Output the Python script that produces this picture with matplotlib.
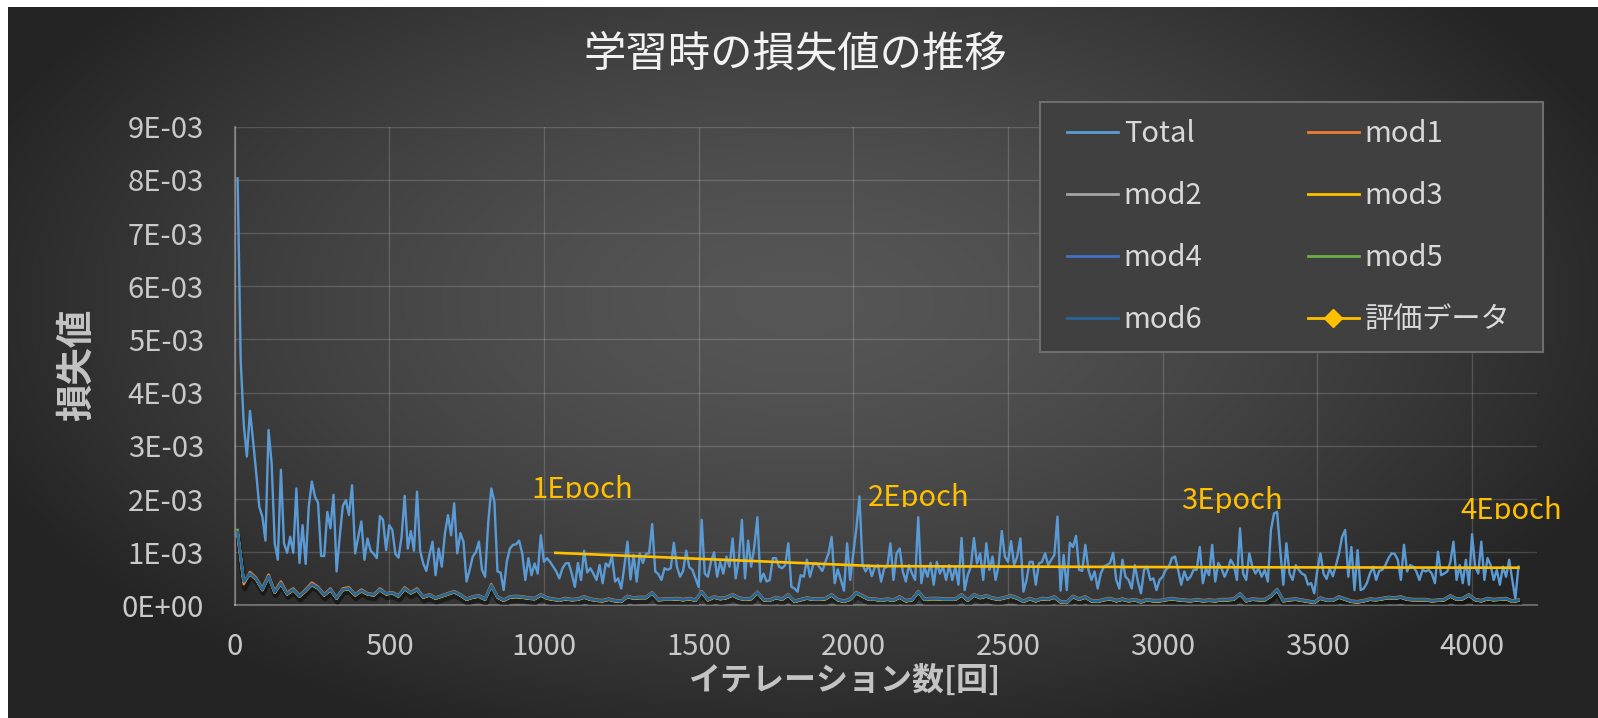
import numpy as np
import matplotlib.pyplot as plt
from matplotlib.lines import Line2D
from matplotlib.patches import Rectangle
from matplotlib.ticker import FuncFormatter
from matplotlib import patheffects as pe
from matplotlib import transforms as mtrans

plt.rcParams['font.family'] = ['Noto Sans CJK JP', 'DejaVu Sans']

# total loss, logged every 10 iterations (10 .. 4150), in units of 1e-3
total_e3 = [
    8.03, 4.6, 3.4, 2.8, 3.66, 3.1, 2.5, 1.86, 1.67, 1.22, 3.3, 2.67, 1.17, 0.86, 2.55, 1.17, 0.99, 1.29, 0.99, 2.2,
    0.8, 1.51, 0.78, 1.86, 2.33, 2.05, 1.93, 0.93, 0.93, 1.76, 1.45, 2.08, 0.64, 1.29, 1.87, 1.98, 1.7, 2.26, 0.98, 1.29,
    1.58, 0.86, 1.26, 1.03, 0.97, 0.89, 1.68, 1.61, 1.04, 1.51, 1.42, 0.97, 0.9, 1.29, 2.06, 1.07, 1.4, 1.03, 2.14, 1.03,
    0.79, 0.65, 0.95, 1.2, 0.57, 1.07, 0.73, 1.35,
    1.70, 1.32, 1.92, 0.98, 1.36, 1.2, 0.45, 0.67, 0.92, 1.0, 1.2, 0.67, 0.54, 1.55, 2.2, 1.95, 0.64, 0.62, 0.29, 0.82,
    1.07, 1.14, 1.15, 1.22, 0.98, 0.48, 0.89, 0.57, 0.79, 0.6, 1.32, 0.82, 0.89, 0.82, 0.73, 0.64, 0.51, 0.7, 0.79, 0.8,
    0.6, 0.35, 0.8, 0.48, 1.03, 0.62, 0.7, 0.6, 0.48, 0.76, 0.42, 0.79, 0.73, 0.93, 0.45, 0.51, 0.32, 0.73, 1.2, 0.49,
    0.95, 0.45, 0.98, 0.8, 0.97, 0.98, 1.53, 0.64, 0.59, 0.48, 0.7,
    0.67, 0.7, 1.18, 0.73, 0.54, 0.65, 1.03, 0.72, 0.67, 0.51, 0.35, 1.61, 0.6, 0.54, 0.82, 1.0, 0.54, 0.82, 0.6, 0.92,
    0.73, 1.26, 0.51, 0.86, 1.61, 0.51, 1.22, 0.73, 1.1, 1.66, 0.45, 0.6, 0.45, 0.48, 0.89, 0.89, 0.73, 0.7, 0.76, 1.17,
    0.35, 0.32, 0.26, 0.57, 0.54, 0.86, 0.54, 0.76, 0.8, 0.73, 0.65, 0.82, 0.98, 1.29, 0.42, 0.68, 0.48, 0.28, 1.17, 0.48,
    0.98, 1.45, 2.05, 0.76, 0.64, 0.76, 0.55, 0.73, 0.76, 0.45, 0.7,
    0.73, 1.17, 0.48, 0.98, 1.07, 0.64, 0.45, 0.76, 0.6, 0.48, 1.66, 0.42, 0.73, 0.54, 0.8, 0.39, 0.82, 0.6, 0.73, 0.48,
    0.76, 0.48, 0.73, 0.39, 1.27, 0.29, 0.57, 0.73, 1.27, 0.79, 0.98, 0.48, 1.17, 0.67, 0.92, 0.48, 0.76, 1.4, 0.92, 0.82,
    1.21, 0.76, 0.92, 1.26, 0.26, 0.48, 0.82, 0.82, 0.39, 0.79, 0.82, 0.98, 0.76, 0.86, 0.95, 1.67, 0.28, 0.95, 0.29, 1.18,
    1.1, 1.31, 0.67, 0.65, 1.14, 0.67, 0.48, 0.64, 0.32, 0.6, 0.73,
    0.76, 0.8, 0.99, 0.48, 0.32, 0.86, 0.54, 0.48, 0.32, 0.76, 0.45, 0.23, 0.67, 0.73, 0.48, 0.51, 0.29, 0.48, 0.54, 0.67,
    0.73, 0.89, 0.92, 0.67, 0.39, 0.64, 0.48, 0.54, 0.67, 0.67, 1.1, 0.42, 0.7, 0.57, 1.14, 0.45, 0.8, 0.7, 0.54, 0.67,
    0.86, 0.76, 0.48, 1.45, 0.6, 0.48, 0.98, 0.73, 0.6, 0.7, 0.54, 0.67, 0.45, 1.42, 1.73, 1.76, 1.04, 0.39, 1.17, 0.6,
    0.48, 0.76, 0.67, 0.6, 0.57, 0.39, 0.42, 0.23, 0.67, 0.98, 0.6,
    0.5, 0.7, 0.55, 0.75, 0.98, 1.29, 1.42, 0.54, 1.1, 0.29, 1.04, 0.29, 0.32, 0.42, 0.6, 0.73, 0.48, 0.65, 0.67, 0.76,
    0.89, 0.98, 0.97, 0.86, 0.48, 1.14, 0.64, 0.76, 0.73, 0.64, 0.48, 0.67, 0.64, 0.67, 0.6, 0.42, 1.01, 0.57, 0.6, 0.64,
    0.82, 1.2, 0.48, 0.76, 0.42, 0.86, 0.39, 1.34, 0.73, 0.6, 1.2, 0.48, 0.89, 0.76, 0.48, 0.67, 0.39, 0.73, 0.54, 0.86,
    0.48, 0.13, 0.73,
]

# per-module losses, logged every 20 iterations (10 .. 4150), in units of 1e-5
mod1_e5 = [
    132, 40, 63, 52, 32, 58, 27, 45, 24, 32, 19, 30, 43, 35, 21, 32, 15, 32, 34, 21, 30, 23, 21, 32, 23, 25, 19, 34, 25, 32, 17, 21, 15, 19,
    23, 27, 21, 13, 17, 19, 13, 40, 17, 11, 17, 18, 17, 15, 14, 21, 15, 13, 11, 14, 12, 13, 17, 13, 11, 10, 13, 10, 9, 18, 15, 16, 16, 25, 12, 13,
    13, 14, 12, 14, 11, 27, 12, 17, 14, 16, 21, 15, 13, 14, 26, 12, 11, 16, 13, 21, 9, 12, 15, 13, 13, 14, 21, 12, 9, 13, 25, 19, 13, 13, 11,
    13, 11, 17, 10, 12, 27, 13, 14, 14, 13, 13, 13, 21, 11, 21, 16, 19, 15, 13, 16, 19, 15, 9, 14, 10, 14, 13, 17, 8, 7, 18, 13, 17, 10, 9, 12,
    14, 10, 13, 10, 12, 8, 12, 10, 10, 12, 14, 12, 11, 10, 12, 10, 11, 10, 12, 12, 13, 23, 10, 13, 12, 12, 19, 31, 10, 12, 13, 11, 9, 7, 15,
    11, 11, 17, 13, 9, 8, 10, 13, 12, 14, 16, 15, 17, 13, 12, 12, 12, 10, 11, 12, 19, 13, 14, 21, 12, 10, 14, 12, 13, 14, 9, 11,
]
mod2_e5 = [
    137, 44, 59, 49, 29, 54, 24, 41, 21, 29, 17, 27, 39, 32, 19, 29, 13, 29, 31, 19, 27, 21, 19, 29, 21, 23, 17, 31, 23, 29, 15, 19, 13, 17,
    21, 25, 19, 11, 15, 17, 11, 37, 15, 9, 15, 16, 15, 13, 12, 19, 13, 11, 9, 12, 10, 11, 15, 11, 9, 8, 11, 8, 7, 16, 13, 14, 14, 23, 10, 11,
    11, 12, 10, 12, 9, 25, 10, 15, 12, 14, 19, 13, 11, 12, 24, 10, 9, 14, 11, 19, 7, 10, 13, 11, 11, 12, 19, 10, 7, 11, 23, 17, 11, 11, 9,
    11, 9, 15, 8, 10, 25, 11, 12, 12, 11, 11, 11, 19, 9, 19, 14, 17, 13, 11, 14, 17, 13, 7, 12, 8, 12, 11, 15, 6, 5, 16, 11, 15, 8, 7, 10,
    12, 8, 11, 8, 10, 6, 10, 8, 8, 10, 12, 10, 9, 8, 10, 8, 9, 8, 10, 10, 11, 21, 8, 11, 10, 10, 17, 29, 8, 10, 11, 9, 7, 5, 13,
    9, 9, 15, 11, 7, 6, 8, 11, 10, 12, 14, 13, 15, 11, 10, 10, 10, 8, 9, 10, 17, 11, 12, 19, 10, 8, 12, 10, 11, 12, 7, 9,
]
mod3_e5 = [
    137, 44, 59, 49, 29, 54, 24, 41, 21, 29, 17, 27, 39, 32, 19, 29, 13, 29, 31, 19, 27, 21, 19, 29, 21, 23, 17, 31, 23, 29, 15, 19, 13, 17,
    21, 25, 19, 11, 15, 17, 11, 37, 15, 9, 15, 16, 15, 13, 12, 19, 13, 11, 9, 12, 10, 11, 15, 11, 9, 8, 11, 8, 7, 16, 13, 14, 14, 23, 10, 11,
    11, 12, 10, 12, 9, 25, 10, 15, 12, 14, 19, 13, 11, 12, 24, 10, 9, 14, 11, 19, 7, 10, 13, 11, 11, 12, 19, 10, 7, 11, 23, 17, 11, 11, 9,
    11, 9, 15, 8, 10, 25, 11, 12, 12, 11, 11, 11, 19, 9, 19, 14, 17, 13, 11, 14, 17, 13, 7, 12, 8, 12, 11, 15, 6, 5, 16, 11, 15, 8, 7, 10,
    12, 8, 11, 8, 10, 6, 10, 8, 8, 10, 12, 10, 9, 8, 10, 8, 9, 8, 10, 10, 11, 21, 8, 11, 10, 10, 17, 29, 8, 10, 11, 9, 7, 5, 13,
    9, 9, 15, 11, 7, 6, 8, 11, 10, 12, 14, 13, 15, 11, 10, 10, 10, 8, 9, 10, 17, 11, 12, 19, 10, 8, 12, 10, 11, 12, 7, 9,
]
mod4_e5 = [
    136, 45, 60, 50, 30, 55, 25, 42, 22, 30, 18, 28, 40, 33, 20, 30, 14, 30, 32, 20, 28, 22, 20, 30, 22, 24, 18, 32, 24, 30, 16, 20, 14, 18,
    22, 26, 20, 12, 16, 18, 12, 38, 16, 10, 16, 17, 16, 14, 13, 20, 14, 12, 10, 13, 11, 12, 16, 12, 10, 9, 12, 9, 8, 17, 14, 15, 15, 24, 11, 12,
    12, 13, 11, 13, 10, 26, 11, 16, 13, 15, 20, 14, 12, 13, 25, 11, 10, 15, 12, 20, 8, 11, 14, 12, 12, 13, 20, 11, 8, 12, 24, 18, 12, 12, 10,
    12, 10, 16, 9, 11, 26, 12, 13, 13, 12, 12, 12, 20, 10, 20, 15, 18, 14, 12, 15, 18, 14, 8, 13, 9, 13, 12, 16, 7, 6, 17, 12, 16, 9, 8, 11,
    13, 9, 12, 9, 11, 7, 11, 9, 9, 11, 13, 11, 10, 9, 11, 9, 10, 9, 11, 11, 12, 22, 9, 12, 11, 11, 18, 30, 9, 11, 12, 10, 8, 6, 14,
    10, 10, 16, 12, 8, 7, 9, 12, 11, 13, 15, 14, 16, 12, 11, 11, 11, 9, 10, 11, 18, 12, 13, 20, 11, 9, 13, 11, 12, 13, 8, 10,
]
mod5_e5 = [
    142, 45, 60, 50, 30, 55, 25, 42, 22, 30, 18, 28, 40, 33, 20, 30, 14, 30, 32, 20, 28, 22, 20, 30, 22, 24, 18, 32, 24, 30, 16, 20, 14, 18,
    22, 26, 20, 12, 16, 18, 12, 38, 16, 10, 16, 17, 16, 14, 13, 20, 14, 12, 10, 13, 11, 12, 16, 12, 10, 9, 12, 9, 8, 17, 14, 15, 15, 24, 11, 12,
    12, 13, 11, 13, 10, 26, 11, 16, 13, 15, 20, 14, 12, 13, 25, 11, 10, 15, 12, 20, 8, 11, 14, 12, 12, 13, 20, 11, 8, 12, 24, 18, 12, 12, 10,
    12, 10, 16, 9, 11, 26, 12, 13, 13, 12, 12, 12, 20, 10, 20, 15, 18, 14, 12, 15, 18, 14, 8, 13, 9, 13, 12, 16, 7, 6, 17, 12, 16, 9, 8, 11,
    13, 9, 12, 9, 11, 7, 11, 9, 9, 11, 13, 11, 10, 9, 11, 9, 10, 9, 11, 11, 12, 22, 9, 12, 11, 11, 18, 30, 9, 11, 12, 10, 8, 6, 14,
    10, 10, 16, 12, 8, 7, 9, 12, 11, 13, 15, 14, 16, 12, 11, 11, 11, 9, 10, 11, 18, 12, 13, 20, 11, 9, 13, 11, 12, 13, 8, 10,
]
mod6_e5 = [
    138, 45, 60, 50, 30, 55, 25, 42, 22, 30, 18, 28, 40, 33, 20, 30, 14, 30, 32, 20, 28, 22, 20, 30, 22, 24, 18, 32, 24, 30, 16, 20, 14, 18,
    22, 26, 20, 12, 16, 18, 12, 38, 16, 10, 16, 17, 16, 14, 13, 20, 14, 12, 10, 13, 11, 12, 16, 12, 10, 9, 12, 9, 8, 17, 14, 15, 15, 24, 11, 12,
    12, 13, 11, 13, 10, 26, 11, 16, 13, 15, 20, 14, 12, 13, 25, 11, 10, 15, 12, 20, 8, 11, 14, 12, 12, 13, 20, 11, 8, 12, 24, 18, 12, 12, 10,
    12, 10, 16, 9, 11, 26, 12, 13, 13, 12, 12, 12, 20, 10, 20, 15, 18, 14, 12, 15, 18, 14, 8, 13, 9, 13, 12, 16, 7, 6, 17, 12, 16, 9, 8, 11,
    13, 9, 12, 9, 11, 7, 11, 9, 9, 11, 13, 11, 10, 9, 11, 9, 10, 9, 11, 11, 12, 22, 9, 12, 11, 11, 18, 30, 9, 11, 12, 10, 8, 6, 14,
    10, 10, 16, 12, 8, 7, 9, 12, 11, 13, 15, 14, 16, 12, 11, 11, 11, 9, 10, 11, 18, 12, 13, 20, 11, 9, 13, 11, 12, 13, 8, 10,
]

# evaluation loss at the end of each epoch
eval_iter = [1037, 2075, 3112, 4150]
eval_loss = [9.9e-4, 7.4e-4, 7.2e-4, 7.1e-4]
epoch_labels = ['1Epoch', '2Epoch', '3Epoch', '4Epoch']

series_names = ['Total', 'mod1', 'mod2', 'mod3', 'mod4', 'mod5', 'mod6', '評価データ']

it_total = np.arange(10, 4151, 10)
it_mod = np.arange(10, 4151, 20)

W, H = 1598, 718
fig = plt.figure(figsize=(W / 100, H / 100), dpi=100)

# dark radial backdrop
bg = fig.add_axes([0, 0, 1, 1], zorder=-5)
yy, xx = np.mgrid[0:H, 0:W]
r = np.sqrt(((xx - 0.5 * W) / (0.55 * W)) ** 2 + ((yy - 0.42 * H) / (0.65 * H)) ** 2)
r = np.clip(r, 0, 1) ** 1.5
shade = (86 - 50 * r) / 255
img = np.dstack([shade] * 3)
img[:7, :] = 1
img[:, :8] = 1
bg.imshow(img, extent=(0, W, H, 0), aspect='auto', interpolation='bilinear')
bg.set_xlim(0, W)
bg.set_ylim(H, 0)
bg.axis('off')

ax = fig.add_axes([0.14675, 0.15669, 0.81489, 0.66685])
ax.set_facecolor('none')

total_color = '#5B9BD5'
eval_color = '#FFC000'
mod_colors = ['#ED7D31', '#A5A5A5', '#FFC000', '#4472C4', '#70AD47', '#2A6399']

ax.plot(it_total, np.array(total_e3) * 1e-3, color=total_color, lw=1.7, zorder=3)

mod_data = [mod1_e5, mod2_e5, mod3_e5, mod4_e5, mod5_e5, mod6_e5]
for i, (vals, c) in enumerate(zip(mod_data, mod_colors)):
    effects = None
    if i == 0:
        # soft dark glow under the module lines
        effects = [pe.SimpleLineShadow(offset=(0.6, -3.2), shadow_color='black', alpha=0.45, linewidth=3.8),
                   pe.Normal()]
    ax.plot(it_mod, np.array(vals) * 1e-5, color=c, lw=1.9, zorder=4, path_effects=effects)

ax.plot(eval_iter, eval_loss, color=eval_color, lw=1.9, zorder=6)

# epoch labels: pixel offsets from each point, and where the text box cuts off
lab_dx = [-24, -9, -16, -58]
lab_dy = [54.6, 60.6, 58.4, 49.2]
clip_dy = [54.5, 59.4, 53.9, 48.7]
for lab, x, y, dx, dy, cy in zip(epoch_labels, eval_iter, eval_loss, lab_dx, lab_dy, clip_dy):
    t = ax.annotate(lab, (x, y), xytext=(dx, dy), textcoords='offset pixels',
                    ha='left', va='baseline', fontsize=21, color=eval_color,
                    annotation_clip=False, zorder=7)
    tr = mtrans.offset_copy(ax.transData, fig=fig, x=0, y=cy, units='dots')
    t.set_clip_path(Rectangle((0, y), 6000, 1, transform=tr))

ax.set_xlim(0, 4209)
ax.set_ylim(0, 0.009)
ax.set_xticks(np.arange(0, 4001, 500))
ax.set_yticks(np.arange(0, 0.0091, 0.001))
ax.yaxis.set_major_formatter(FuncFormatter(lambda v, p: f'{v:.0E}'))
ax.tick_params(length=0, labelsize=21, colors='#c9c9c9')
ax.tick_params(axis='y', pad=22)
ax.tick_params(axis='x', pad=19)
ax.grid(True, color='white', alpha=0.16, lw=1.0)
ax.set_axisbelow(True)
for s in ['top', 'right']:
    ax.spines[s].set_visible(False)
for s in ['left', 'bottom']:
    ax.spines[s].set_color((1, 1, 1, 0.3))
    ax.spines[s].set_linewidth(1.5)

fig.text(0.498, 0.924, '学習時の損失値の推移', ha='center', va='center',
         fontsize=30.5, color='#f2f2f2')
fig.text(0.0476, 0.4916, '損失値', rotation=90, ha='center', va='center',
         fontsize=27, fontweight='bold', color='#c4c4c4')
fig.text(0.5288, 0.0515, 'イテレーション数[回]', ha='center', va='center',
         fontsize=23, fontweight='bold', color='#c4c4c4')

# legend box
fig.patches.append(Rectangle((1040 / W, 1 - 352 / H), 503 / W, 250 / H, transform=fig.transFigure,
                             facecolor='#404040', edgecolor='#6e6e6e', lw=1.5, zorder=5))
handles = [Line2D([], [], color=total_color, lw=2)]
handles += [Line2D([], [], color=c, lw=2) for c in mod_colors]
handles.append(Line2D([], [], color=eval_color, lw=2, marker='D', markersize=9))
order = [0, 2, 4, 6, 1, 3, 5, 7]
leg = fig.legend([handles[i] for i in order], [series_names[i] for i in order],
                 loc='upper left', bbox_to_anchor=(1067 / W, 1 - 119 / H), ncol=2,
                 frameon=False, fontsize=21, labelcolor='#d9d9d9',
                 handlelength=1.75, handletextpad=0.2, columnspacing=3.6,
                 labelspacing=1.1, borderpad=0, borderaxespad=0)
leg.set_zorder(6)

fig.savefig('out.png', dpi=100)
